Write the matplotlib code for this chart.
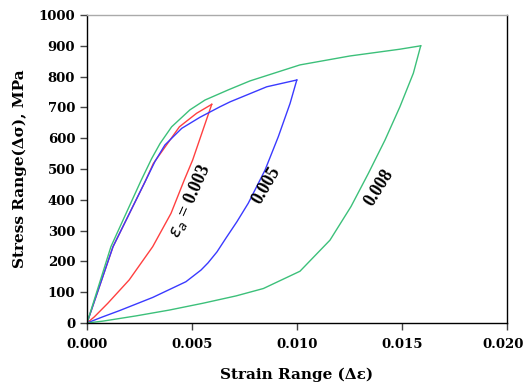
import matplotlib.pyplot as plt
import matplotlib.transforms as mtransforms

# loop 0.003 (red)
red_up_x = [0.0, 0.00124, 0.00276, 0.00316, 0.0044, 0.00522, 0.00594]
red_up_y = [0, 248, 458, 518, 637, 681, 710]
red_lo_x = [0.0, 0.00035, 0.00099, 0.00201, 0.00313, 0.0040, 0.00463, 0.00503, 0.00594]
red_lo_y = [0, 20, 64, 140, 248, 356, 464, 529, 710]

# loop 0.005 (blue)
blue_up_x = [0.0, 0.00124, 0.00276, 0.00324, 0.00371, 0.00451, 0.00538, 0.00633, 0.00681, 0.00856, 0.00999]
blue_up_y = [0, 248, 458, 525, 578, 632, 668, 702, 718, 767, 789]
blue_lo_x = [0.0, 0.00075, 0.00154, 0.00313, 0.00471, 0.00543, 0.00576, 0.00619, 0.00662, 0.00714,
             0.00768, 0.00848, 0.00911, 0.00967, 0.00999]
blue_lo_y = [0, 20, 40, 83, 134, 172, 195, 231, 276, 329, 389, 497, 605, 713, 789]

# loop 0.008 (green)
green_up_x = [0.0, 0.00114, 0.00257, 0.00308, 0.00348, 0.00403, 0.0049, 0.00562, 0.00673, 0.00776,
              0.01014, 0.01252, 0.0149, 0.01589]
green_up_y = [0, 248, 462, 534, 583, 637, 692, 724, 757, 786, 838, 867, 889, 900]
green_lo_x = [0.0, 0.00075, 0.00233, 0.00392, 0.00551, 0.0071, 0.0084, 0.01014, 0.01157, 0.01257,
              0.0134, 0.01419, 0.0149, 0.01554, 0.01589]
green_lo_y = [0, 6, 23, 42, 64, 88, 112, 168, 269, 378, 486, 594, 702, 811, 900]

labels = [r'$\varepsilon_a$ = 0.003', '0.005', '0.008']
label_pos = [(0.00490, 396), (0.00856, 448), (0.01390, 438)]
label_rot = [66, 60, 58]

c_red = '#ff4040'
c_blue = '#3a3aff'
c_green = '#3cc07a'

fig = plt.figure(figsize=(5.26, 3.9), dpi=100)
ax = fig.add_axes([0.1654, 0.1718, 0.7985, 0.7897])

ax.plot(red_up_x, red_up_y, color=c_red, lw=1)
ax.plot(red_lo_x, red_lo_y, color=c_red, lw=1)
ax.plot(blue_up_x, blue_up_y, color=c_blue, lw=1)
ax.plot(blue_lo_x, blue_lo_y, color=c_blue, lw=1)
ax.plot(green_up_x, green_up_y, color=c_green, lw=1)
ax.plot(green_lo_x, green_lo_y, color=c_green, lw=1)

for t, (x, y), r in zip(labels, label_pos, label_rot):
    ax.text(x, y, t, rotation=r, ha='center', va='center',
            fontsize=13, fontweight='bold', family='Liberation Serif')

ax.set_xlim(0, 0.020)
ax.set_ylim(0, 1000)
ax.set_xticks([0.0, 0.005, 0.010, 0.015, 0.020])
ax.set_xticklabels(['0.000', '0.005', '0.010', '0.015', '0.020'])
ax.set_yticks(range(0, 1001, 100))
for lab in ax.get_xticklabels() + ax.get_yticklabels():
    lab.set_fontweight('bold')
    lab.set_fontsize(9.5)
    lab.set_family('DejaVu Serif')
ax.tick_params(direction='out', length=5, width=1, color='#444444')
ax.tick_params(axis='x', pad=6)

# keep the last x label inside the canvas
last = ax.get_xticklabels()[-1]
last.set_transform(last.get_transform() +
                   mtransforms.ScaledTranslation(-4 / 100, 0, fig.dpi_scale_trans))

ax.set_xlabel('Strain Range (\u0394\u03b5)', fontsize=11, fontweight='bold',
              family='DejaVu Serif', labelpad=12)
ax.set_ylabel('Stress Range(\u0394\u03c3), MPa', fontsize=11, fontweight='bold',
              family='DejaVu Serif', labelpad=8)
for s in ax.spines.values():
    s.set_linewidth(1)
ax.spines['top'].set_color('#aaaaaa')

fig.savefig('out.png', dpi=100)
